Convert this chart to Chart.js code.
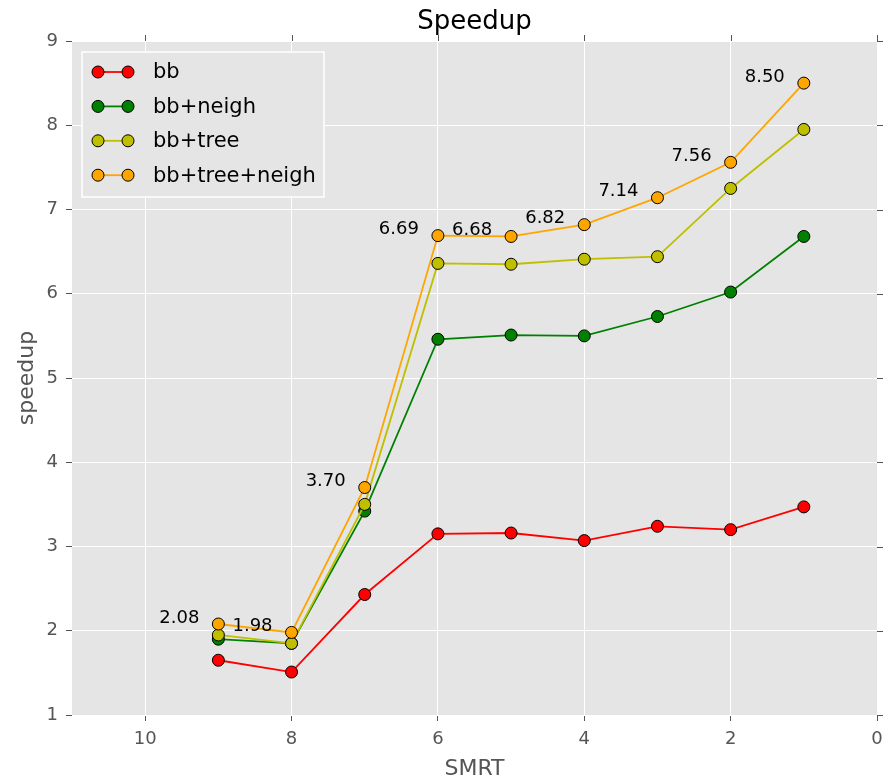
<!DOCTYPE html>
<html>
<head>
<meta charset="utf-8">
<script src="https://cdn.jsdelivr.net/npm/chart.js@4"></script>
<style>
  html, body { margin: 0; padding: 0; background: #fff; }
  #wrap { width: 892px; height: 782px; }
</style>
</head>
<body>
<div id="wrap"><canvas id="chart" width="892" height="782"></canvas></div>
<script>
// data
const smrt = [9, 8, 7, 6, 5, 4, 3, 2, 1];
const bb = [1.65, 1.51, 2.43, 3.15, 3.16, 3.07, 3.24, 3.20, 3.47];
const bbNeigh = [1.90, 1.85, 3.42, 5.46, 5.51, 5.50, 5.73, 6.02, 6.68];
const bbTree = [1.95, 1.85, 3.50, 6.36, 6.35, 6.41, 6.44, 7.25, 7.95];
const bbTreeNeigh = [2.08, 1.98, 3.70, 6.69, 6.68, 6.82, 7.14, 7.56, 8.50];

const names = ["bb", "bb+neigh", "bb+tree", "bb+tree+neigh"];
const colors = ["#ff0000", "#008000", "#bfbf00", "#ffa500"];
const series = [bb, bbNeigh, bbTree, bbTreeNeigh];

const FONT = "'DejaVu Sans', 'Liberation Sans', sans-serif";

function pts(ys) {
  return smrt.map((x, i) => ({ x: x, y: ys[i] }));
}

let datasets = series.map((s, i) => ({
  label: names[i],
  data: pts(s),
  borderColor: colors[i],
  backgroundColor: colors[i],
  borderWidth: 1.8,
  pointRadius: 6,
  pointHoverRadius: 6,
  pointBackgroundColor: colors[i],
  pointBorderColor: "#000",
  pointBorderWidth: 1,
  fill: false,
  tension: 0,
  order: series.length - i
}));

// gray plot area, outer ticks on top/right, title, labels, legend
const decor = {
  id: "decor",
  beforeDraw(chart) {
    let a = chart.chartArea;
    let ctx = chart.ctx;
    ctx.save();
    ctx.fillStyle = "#e5e5e5";
    ctx.fillRect(a.left, a.top, a.right - a.left, a.bottom - a.top);
    ctx.restore();
  },
  afterDatasetsDraw(chart) {
    let ctx = chart.ctx;
    let a = chart.chartArea;
    let xs = chart.scales.x, ys = chart.scales.y;
    ctx.save();

    // top / right tick marks
    ctx.strokeStyle = "#555";
    ctx.lineWidth = 1;
    xs.ticks.forEach(t => {
      let px = Math.round(xs.getPixelForValue(t.value)) + 0.5;
      ctx.beginPath();
      ctx.moveTo(px, a.top);
      ctx.lineTo(px, a.top - 6);
      ctx.stroke();
    });
    ys.ticks.forEach(t => {
      let py = Math.round(ys.getPixelForValue(t.value)) + 0.5;
      ctx.beginPath();
      ctx.moveTo(a.right, py);
      ctx.lineTo(a.right + 6, py);
      ctx.stroke();
    });

    // value labels for bb+tree+neigh
    ctx.fillStyle = "#000";
    ctx.font = "18px " + FONT;
    ctx.textAlign = "right";
    ctx.textBaseline = "middle";
    bbTreeNeigh.forEach((v, i) => {
      let px = xs.getPixelForValue(smrt[i]);
      let py = ys.getPixelForValue(v);
      ctx.fillText(v.toFixed(2), px - 19, py - 6);
    });

    // title
    ctx.textAlign = "center";
    ctx.font = "26px " + FONT;
    ctx.fillText("Speedup", (a.left + a.right) / 2, 22);

    // legend
    let lx = 82, ly = 52, lw = 242, lh = 145;
    ctx.fillStyle = "#e5e5e5";
    ctx.fillRect(lx, ly, lw, lh);
    ctx.strokeStyle = "#fff";
    ctx.lineWidth = 1.5;
    ctx.strokeRect(lx, ly, lw, lh);
    ctx.font = "21px " + FONT;
    ctx.textAlign = "left";
    names.forEach((n, i) => {
      let y = 72 + i * 34.4;
      ctx.strokeStyle = colors[i];
      ctx.lineWidth = 1.8;
      ctx.beginPath();
      ctx.moveTo(98, y);
      ctx.lineTo(128, y);
      ctx.stroke();
      [98, 128].forEach(cx => {
        ctx.beginPath();
        ctx.arc(cx, y, 6, 0, Math.PI * 2);
        ctx.fillStyle = colors[i];
        ctx.fill();
        ctx.strokeStyle = "#000";
        ctx.lineWidth = 1;
        ctx.stroke();
      });
      ctx.fillStyle = "#000";
      ctx.fillText(n, 153, y + 1);
    });
    ctx.restore();
  }
};

new Chart(document.getElementById("chart"), {
  type: "line",
  data: { datasets: datasets },
  plugins: [decor],
  options: {
    responsive: false,
    animation: false,
    layout: { padding: { top: 41, right: 15, left: 0, bottom: 0 } },
    plugins: {
      legend: { display: false },
      title: { display: false },
      tooltip: { enabled: false }
    },
    scales: {
      x: {
        type: "linear",
        reverse: true,
        min: 0,
        max: 11,
        afterFit(s) { s.height = 67; },
        ticks: {
          stepSize: 2,
          includeBounds: false,
          color: "#555",
          padding: 8,
          font: { family: FONT, size: 18 },
          maxRotation: 0
        },
        grid: { color: "#fff", lineWidth: 1, tickColor: "#555", tickLength: 6 },
        border: { display: false },
        title: {
          display: true,
          text: "SMRT",
          color: "#555",
          font: { family: FONT, size: 22 },
          padding: { top: 0, bottom: 0 }
        }
      },
      y: {
        min: 1,
        max: 9,
        afterFit(s) { s.width = 72; },
        ticks: {
          stepSize: 1,
          color: "#555",
          padding: 8,
          font: { family: FONT, size: 18 }
        },
        grid: { color: "#fff", lineWidth: 1, tickColor: "#555", tickLength: 6 },
        border: { display: false },
        title: {
          display: true,
          text: "speedup",
          color: "#555",
          font: { family: FONT, size: 22 },
          padding: { top: 14, bottom: 0 }
        }
      }
    }
  }
});
</script>
</body>
</html>
